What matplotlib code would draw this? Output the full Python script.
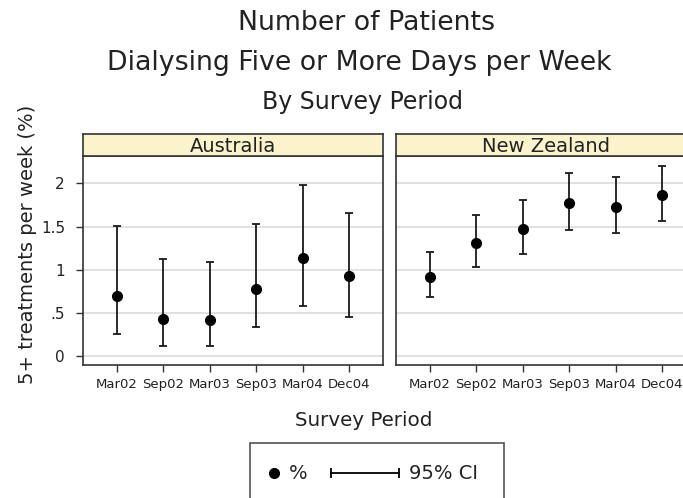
import numpy as np
import matplotlib
matplotlib.use('Agg')
import matplotlib.pyplot as plt
import matplotlib.transforms as mtransforms
from matplotlib.lines import Line2D
from matplotlib.patches import Rectangle
from matplotlib.ticker import FuncFormatter

# survey periods and estimates
periods = ['Mar02', 'Sep02', 'Mar03', 'Sep03', 'Mar04', 'Dec04']
countries = ['Australia', 'New Zealand']

aus_pct = [0.695, 0.432, 0.420, 0.773, 1.132, 0.927]
aus_lo = [0.255, 0.116, 0.112, 0.333, 0.583, 0.456]
aus_hi = [1.510, 1.128, 1.090, 1.530, 1.980, 1.660]

nz_pct = [0.915, 1.313, 1.468, 1.769, 1.730, 1.862]
nz_lo = [0.687, 1.035, 1.180, 1.456, 1.420, 1.560]
nz_hi = [1.200, 1.637, 1.808, 2.120, 2.074, 2.205]

yticks = [0, 0.5, 1, 1.5, 2]

W, H = 683, 498
txt = '#222222'
strip_col = '#faf3cc'
grid_col = '#dedede'
frame_col = '#333333'

plt.rcParams['font.family'] = 'DejaVu Sans'

fig = plt.figure(figsize=(W / 100, H / 100), dpi=100)


def px(x0, y0, x1, y1):
    # pixel box -> figure fraction [left, bottom, width, height]
    return [x0 / W, 1 - y1 / H, (x1 - x0) / W, (y1 - y0) / H]


panels = [
    (aus_pct, aus_lo, aus_hi, 83),
    (nz_pct, nz_lo, nz_hi, 396),
]

x = np.arange(1, len(periods) + 1)
shift = mtransforms.ScaledTranslation(-5 / 100, 0, fig.dpi_scale_trans)

for i, (pct, lo, hi, left) in enumerate(panels):
    ax = fig.add_axes(px(left, 156, left + 300, 365))
    pct = np.array(pct)
    err = [pct - np.array(lo), np.array(hi) - pct]
    ax.errorbar(x, pct, yerr=err, fmt='o', color='black', ecolor='#1a1a1a',
                markersize=7, elinewidth=1.3, capsize=3.2, capthick=1.3, zorder=3)
    ax.set_xlim(0.28, 6.72)
    ax.set_ylim(-0.104, 2.317)
    ax.set_yticks(yticks)
    ax.yaxis.set_major_formatter(FuncFormatter(lambda v, p: ('%g' % v).lstrip('0') if v != 0 else '0'))
    ax.grid(axis='y', color=grid_col, lw=1.3, zorder=0)
    ax.set_axisbelow(True)
    ax.set_xticks(x)
    ax.set_xticklabels(periods, fontsize=9.5, color=txt)
    for lab in ax.get_xticklabels():
        lab.set_transform(lab.get_transform() + shift)
    ax.tick_params(axis='x', length=5, width=1, color=frame_col, pad=4)
    if i == 0:
        ax.tick_params(axis='y', length=5, width=1, color=frame_col, pad=8,
                       labelsize=11, labelcolor=txt)
    else:
        ax.tick_params(axis='y', left=False, labelleft=False)
    for s in ax.spines.values():
        s.set_color(frame_col)
        s.set_linewidth(1.2)

    # strip header
    sax = fig.add_axes(px(left, 134, left + 300, 156))
    sax.set_facecolor(strip_col)
    sax.set_xticks([])
    sax.set_yticks([])
    for s in sax.spines.values():
        s.set_color(frame_col)
        s.set_linewidth(1.2)
    sax.text(0.5, 0.45, countries[i], ha='center', va='center', fontsize=14,
             color=txt, transform=sax.transAxes)

# titles
fig.text(366 / W, 1 - 23 / H, 'Number of Patients', ha='center', va='center',
         fontsize=19.3, color=txt)
fig.text(359 / W, 1 - 63 / H, 'Dialysing Five or More Days per Week', ha='center',
         va='center', fontsize=19.3, color=txt)
fig.text(362 / W, 1 - 102 / H, 'By Survey Period', ha='center', va='center',
         fontsize=17, color=txt)

fig.text(364 / W, 1 - 420 / H, 'Survey Period', ha='center', va='center',
         fontsize=14.3, color=txt)
fig.text(28 / W, 1 - 244 / H, '5+ treatments per week (%)', ha='center',
         va='center', rotation=90, fontsize=14, color=txt)

# legend box (runs off the bottom like the reference)
fig.patches.append(Rectangle((250 / W, 1 - 503 / H), 254 / W, 60 / H,
                             transform=fig.transFigure, fill=False,
                             edgecolor='#555555', lw=1.2))
ly = 1 - 473 / H
fig.lines.append(Line2D([274 / W], [ly], marker='o', color='black',
                        markersize=7, transform=fig.transFigure))
fig.text(289 / W, ly, '%', ha='left', va='center', fontsize=14, color=txt)
fig.lines.append(Line2D([331 / W, 399 / W], [ly, ly], color='black', lw=1.3,
                        marker='|', markersize=7, markeredgewidth=1.3,
                        transform=fig.transFigure))
fig.text(409 / W, ly, '95% CI', ha='left', va='center', fontsize=14, color=txt)

fig.savefig('out.png', dpi=100, facecolor='white')
